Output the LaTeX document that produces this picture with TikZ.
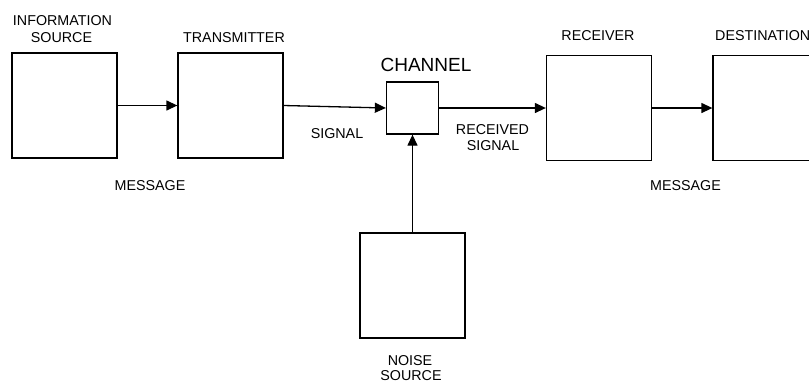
\documentclass[tikz,border=0pt]{standalone}
\usepackage{fontspec}
\setmainfont{Liberation Sans}
\usetikzlibrary{arrows.meta}
\begin{document}
\begin{tikzpicture}[x=1pt,y=-1pt,
  blk/.style={draw,line width=1.3pt,inner sep=0pt,minimum width=#1,minimum height=#1},
  lbl/.style={inner sep=0pt,font=\fontsize{14.3}{15}\selectfont,align=center},
  conn/.style={line width=1.3pt,-{Triangle[length=11pt,width=10pt]}}]
\clip (0,0) rectangle (809,384);
\fill[white] (0,0) rectangle (809,384);
% boxes
\node[blk=105] (src) at (64.5,105.5) {};
\node[blk=105] (tx) at (230.5,105.5) {};
\node[blk=52] (ch) at (412.5,108) {};
\node[blk=105] (rx) at (599,108) {};
\node[blk=105] (dst) at (765.5,108) {};
\node[blk=105] (ns) at (412.5,285.5) {};
% labels
\node[lbl] (l1) at (62.5,21) {INFORMATION};
\node[lbl] (l2) at (61.5,37.5) {SOURCE};
\node[lbl] (l3) at (234,38) {TRANSMITTER};
\node[lbl,font=\fontsize{19}{20}\selectfont] (l4) at (426,64.5) {CHANNEL};
\node[lbl] (l5) at (598,36) {RECEIVER};
\node[lbl,anchor=west] (l6) at (715,35.5) {DESTINATION};
\node[lbl] (l7) at (150,186) {MESSAGE};
\node[lbl] (l8) at (337,134) {SIGNAL};
\node[lbl] (l9) at (492.5,129.5) {RECEIVED};
\node[lbl] (l10) at (493,146) {SIGNAL};
\node[lbl] (l11) at (685.5,186) {MESSAGE};
\node[lbl] (l12) at (410,361) {NOISE};
\node[lbl] (l13) at (411,375.5) {SOURCE};
% connectors
\draw[conn] (src.east) -- (tx.west);
\draw[conn] (tx.east) -- (ch.west);
\draw[conn] (ch.east) -- (rx.west);
\draw[conn] (rx.east) -- (dst.west);
\draw[conn] (ns.north) -- (ch.south);
\end{tikzpicture}
\end{document}
